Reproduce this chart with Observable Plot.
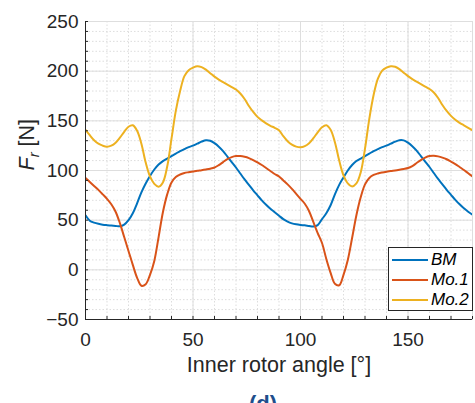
<!DOCTYPE html>
<html><head><meta charset="utf-8">
<script src="https://cdn.jsdelivr.net/npm/d3@7"></script>
<script src="https://cdn.jsdelivr.net/npm/@observablehq/plot@0.6"></script>
<style>
body{margin:0;background:#fff;}
#wrap{position:relative;width:475px;height:403px;overflow:hidden;font-family:"Liberation Sans",Arial,sans-serif;background:#fff;}
#legend{position:absolute;left:388px;top:247px;width:85px;height:64px;border:1px solid #262626;background:#fff;box-sizing:border-box;}
.lrow{position:absolute;left:0;width:100%;height:20px;}
.lline{position:absolute;left:3px;top:9px;width:36px;height:2px;}
.ltext{position:absolute;left:42px;top:0;line-height:20px;font-size:17px;font-style:italic;color:#000;white-space:nowrap;}
#tag{position:absolute;top:393px;left:233px;width:60px;text-align:center;font-weight:bold;font-size:22px;line-height:22px;color:#1f4e8c;}
</style>
</head><body>
<div id="wrap"><div id="chart"></div><div id="legend"></div><div id="tag">(d)</div></div>
<script>
const angles = [0,2,4,6,8,10,12,14,16,18,20,22,24,26,28,30,32,34,36,38,40,42,44,46,48,50,52,54,56,58,60,62,64,66,68,70,72,74,76,78,80,82,84,86,88,
  90,92,94,96,98,100,102,104,106,108,110,112,114,116,118,120,122,124,126,128,130,132,134,136,138,140,142,144,146,148,150,152,154,156,158,160,162,164,166,168,170,172,174,176,178,180];

const bm = [55,49.5,47.5,46.3,45.5,45,44.6,44.2,43.8,45.5,50,57,67,78,87,94.5,101,106,109.5,112,114.5,117,119.5,121.5,123.5,125,127,129,130.5,130,127.5,124,119.5,114,108.5,103,97,91,85.5,80,75,70,65.5,61.5,58,
  54.5,51,48.5,46.8,45.8,45.2,44.8,44.2,43.7,45,51,57,65,76,85.5,93,100,105.5,109.5,112,114.5,117,119.5,121.5,123.5,125,127,129,130.5,130.3,128,124.5,120,114.5,109,103.5,97.5,91.5,86,80.5,75.5,70.5,66,62,58.5,55.5];

const mo1 = [92.5,88.5,84.5,80.5,76,71.5,66,58.5,47,33,19,5,-8,-16,-14.5,-5,9,33,58,76,88,93.5,96,97.5,98.3,99,99.7,100.3,101,101.8,103,105.5,108.5,111.5,113.5,114.5,114.5,113.8,112.5,110.5,108.2,105.5,102.5,99.5,96.5,
  94,90,86,81.5,76.5,71.5,66.5,59,48,37,27,11,-3,-14,-15.5,-5,10,32,55,73,86,92.5,95.5,97,98,98.8,99.5,100,100.7,101.5,102.5,104.5,107.5,110.5,113,114.5,114.8,114.2,113,111.3,109,106.5,103.5,100.5,97.2,94];

const mo2 = [141,135.5,130.5,127,125,124,125,128,133,139,144,145.5,140,127,108,94,86.5,83.7,88,104,132,160,180,195,201,203.5,205,204,201.5,198,194.5,191.5,189,186.5,184,181.5,177.5,172,165,159,154,150.5,147.5,145,143,
  140.5,134.5,129.5,126,124,123.3,124.5,127.5,132.5,138.5,143.5,145.5,141,128.5,110,95,87,84,87,98,122,152,176,192.5,200.5,203.5,205,204.5,202,198.5,195,192,189.5,187,184.5,182,178.5,173,166,160,155,151,148,145.5,143,140.5];

const seriesNames = ["BM", "Mo.1", "Mo.2"];
const seriesColors = ["#0072BD", "#D95319", "#EDB120"];
const xMajor = [0, 50, 100, 150];
const xMinor = [0,10,20,30,40,50,60,70,80,90,100,110,120,130,140,150,160,170,180];
const yMajor = [-50, 0, 50, 100, 150, 200, 250];
const yMinor = [-50,-40,-30,-20,-10,0,10,20,30,40,50,60,70,80,90,100,110,120,130,140,150,160,170,180,190,200,210,220,230,240,250];
const xLabel = "Inner rotor angle [°]";
const yLabel = "Fr [N]";

const rows = [];
[bm, mo1, mo2].forEach((vals, k) => vals.forEach((v, i) => rows.push({angle: angles[i], value: v, series: seriesNames[k]})));

const axisColor = "#262626";
const plot = Plot.plot({
  width: 475, height: 385,
  marginLeft: 85, marginRight: 3, marginTop: 21, marginBottom: 66,
  x: {domain: [0, 180]},
  y: {domain: [-50, 250]},
  color: {domain: seriesNames, range: seriesColors},
  style: {fontFamily: '"Liberation Sans", Arial, sans-serif', fontSize: "19px", color: axisColor, background: "#fff", overflow: "visible"},
  marks: [
    Plot.gridX(xMinor, {stroke: "#d4d4d4", strokeOpacity: 1, strokeDasharray: "1.5,2", strokeWidth: 0.8}),
    Plot.gridY(yMinor, {stroke: "#d4d4d4", strokeOpacity: 1, strokeDasharray: "1.5,2", strokeWidth: 0.8}),
    Plot.gridX(xMajor, {stroke: "#dedede", strokeOpacity: 1, strokeWidth: 1}),
    Plot.gridY(yMajor, {stroke: "#dedede", strokeOpacity: 1, strokeWidth: 1}),
    Plot.frame({stroke: "#dedede"}),
    Plot.line(rows, {x: "angle", y: "value", stroke: "series", z: "series", strokeWidth: 2, curve: "catmull-rom", clip: true}),
    Plot.ruleX([0], {stroke: axisColor, strokeWidth: 1}),
    Plot.ruleY([-50], {stroke: axisColor, strokeWidth: 1}),
    Plot.ruleX(xMinor, {y1: -50, y2: -47, stroke: axisColor, strokeWidth: 1}),
    Plot.ruleY(yMinor, {x1: 0, x2: 1.4, stroke: axisColor, strokeWidth: 1}),
    Plot.axisX(xMajor, {tickSize: 0, tickPadding: 12.7, label: null, fontSize: 19}),
    Plot.axisY(yMajor, {tickSize: 0, tickPadding: 7, label: null, fontSize: 19}),
    Plot.text([xLabel], {text: d => d, frameAnchor: "bottom", dy: 46, lineAnchor: "middle", fontSize: 21.5, fill: axisColor}),
    Plot.text([yLabel], {text: d => d, frameAnchor: "left", dx: -58.5, rotate: -90, lineAnchor: "middle", fontSize: 21.5, fill: axisColor})
  ]
});
document.getElementById("chart").appendChild(plot);

// italic F with subscript r in the y label
const NS = "http://www.w3.org/2000/svg";
plot.querySelectorAll("text").forEach(t => {
  if (t.textContent === yLabel) {
    while (t.firstChild) t.removeChild(t.firstChild);
    const a = document.createElementNS(NS, "tspan");
    a.setAttribute("font-style", "italic"); a.textContent = "F";
    const b = document.createElementNS(NS, "tspan");
    b.setAttribute("font-style", "italic"); b.setAttribute("font-size", "15px"); b.setAttribute("dy", "5"); b.textContent = "r";
    const c = document.createElementNS(NS, "tspan");
    c.setAttribute("dy", "-5"); c.textContent = " [N]";
    t.appendChild(a); t.appendChild(b); t.appendChild(c);
  }
});

// legend
const legend = document.getElementById("legend");
seriesNames.forEach((name, i) => {
  const row = document.createElement("div");
  row.className = "lrow";
  row.style.top = (2 + 20 * i) + "px";
  const line = document.createElement("div");
  line.className = "lline";
  line.style.background = seriesColors[i];
  const txt = document.createElement("span");
  txt.className = "ltext";
  txt.textContent = name;
  row.appendChild(line); row.appendChild(txt);
  legend.appendChild(row);
});
</script>
</body></html>
